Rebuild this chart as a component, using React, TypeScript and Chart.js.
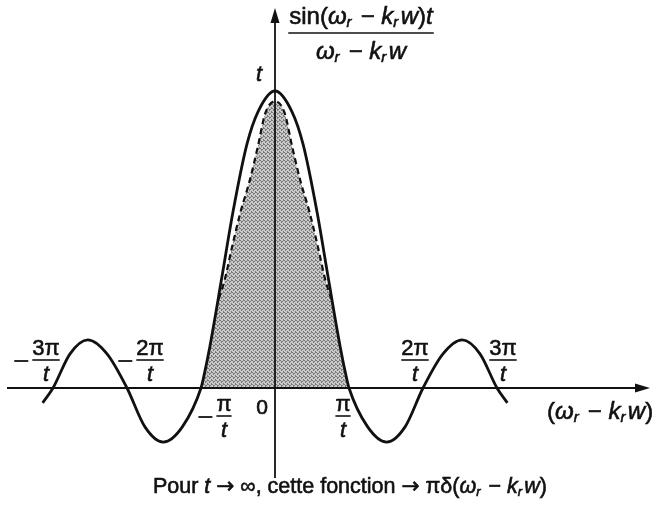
import { useEffect, useRef } from "react";
import { Chart, registerables } from "chart.js";

Chart.register(...registerables);

// Abscissa in units of π/t, ordinate in units of t.
const curveX = [-3.14, -3.0, -2.77, -2.53, -2.27, -2.0, -1.76, -1.51, -1.25, -1.0, -0.97, -0.88, -0.72, -0.57, -0.38, -0.23, 0, 0.23, 0.38, 0.57, 0.72, 0.88, 0.97, 1.0, 1.25, 1.51, 1.76, 2.0, 2.27, 2.53, 2.77, 3.0, 3.14];
const curveY = [-0.05, 0, 0.115, 0.162, 0.115, 0, -0.13, -0.182, -0.13, 0, 0.03, 0.14, 0.37, 0.59, 0.82, 0.93, 1.0, 0.93, 0.82, 0.59, 0.37, 0.14, 0.03, 0, -0.13, -0.182, -0.13, 0, 0.115, 0.162, 0.115, 0, -0.05];

// Dashed inner peak
const dashX = [-0.76, -0.68, -0.58, -0.47, -0.34, -0.23, -0.13, 0, 0.13, 0.23, 0.34, 0.47, 0.58, 0.68, 0.76];
const dashY = [0.3, 0.364, 0.475, 0.589, 0.7, 0.815, 0.926, 0.965, 0.926, 0.815, 0.7, 0.589, 0.475, 0.364, 0.3];

// Tick labels on the horizontal axis (value in π/t)
const tickValues = [-3, -2, -1, 1, 2, 3];
const tickNumerators = ["3π", "2π", "π", "π", "2π", "3π"];
const tickDenominator = "t";
const originLabel = "0";

// label placement: horizontal shift (px) and whether it sits above the axis
const TICK_LAYOUT = [
  { dx: -7, above: true },
  { dx: 23, above: true },
  { dx: 23, above: false },
  { dx: -6, above: false },
  { dx: -8, above: true },
  { dx: 6, above: true },
];

// i: italic, s: subscript, f: alternative family (for arrows)
type Seg = { t: string; i?: boolean; s?: boolean; f?: string };

const FAMILY = '"Liberation Sans", Arial, Helvetica, sans-serif';
const SYMBOLS = '"DejaVu Sans", sans-serif';

const yTitleNum: Seg[] = [
  { t: "sin(" },
  { t: "ω", i: true },
  { t: "r", i: true, s: true },
  { t: " − " },
  { t: "k", i: true },
  { t: "r", i: true, s: true },
  { t: "w", i: true },
  { t: ")" },
  { t: "t", i: true },
];
const yTitleDen: Seg[] = [
  { t: "ω", i: true },
  { t: "r", i: true, s: true },
  { t: " − " },
  { t: "k", i: true },
  { t: "r", i: true, s: true },
  { t: "w", i: true },
];
const xTitle: Seg[] = [
  { t: "(" },
  { t: "ω", i: true },
  { t: "r", i: true, s: true },
  { t: " − " },
  { t: "k", i: true },
  { t: "r", i: true, s: true },
  { t: "w", i: true },
  { t: ")" },
];
const peakLabel: Seg[] = [{ t: "t", i: true }];
const caption: Seg[] = [
  { t: "Pour " },
  { t: "t", i: true },
  { t: " " },
  { t: "→", f: SYMBOLS },
  { t: " ∞, cette fonction " },
  { t: "→", f: SYMBOLS },
  { t: " πδ(" },
  { t: "ω", i: true },
  { t: "r", i: true, s: true },
  { t: " − " },
  { t: "k", i: true },
  { t: "r", i: true, s: true },
  { t: "w", i: true },
  { t: ")" },
];

const INK = "#111";

function segFont(seg: Seg, size: number) {
  const sz = seg.s ? Math.round(size * 0.62) : size;
  return `${seg.i ? "italic " : ""}${sz}px ${seg.f ?? FAMILY}`;
}

function segAdvance(ctx: CanvasRenderingContext2D, seg: Seg, size: number) {
  ctx.font = segFont(seg, size);
  return ctx.measureText(seg.t).width + (seg.s ? size * 0.1 : 0);
}

function richWidth(ctx: CanvasRenderingContext2D, segs: Seg[], size: number) {
  let w = 0;
  for (const s of segs) w += segAdvance(ctx, s, size);
  return w;
}

// heavy text: fill plus a thin outline of the same ink
function inkText(ctx: CanvasRenderingContext2D, text: string, x: number, y: number) {
  ctx.fillText(text, x, y);
  ctx.lineWidth = 0.6;
  ctx.strokeText(text, x, y);
}

function drawRich(
  ctx: CanvasRenderingContext2D,
  segs: Seg[],
  x: number,
  y: number,
  size: number,
  align: "left" | "center" = "center"
) {
  const w = richWidth(ctx, segs, size);
  let cx = align === "center" ? x - w / 2 : x;
  ctx.textAlign = "left";
  ctx.textBaseline = "middle";
  for (const s of segs) {
    const adv = segAdvance(ctx, s, size);
    ctx.font = segFont(s, size);
    inkText(ctx, s.t, cx, y + (s.s ? size * 0.26 : 0));
    cx += adv;
  }
  return w;
}

const axesPlugin = {
  id: "sincAxes",
  afterDatasetsDraw(chart: any) {
    const { ctx } = chart;
    const xs = chart.scales.x;
    const ys = chart.scales.y;
    const x0 = xs.getPixelForValue(0);
    const y0 = ys.getPixelForValue(0);
    ctx.save();
    ctx.strokeStyle = INK;
    ctx.fillStyle = INK;
    ctx.lineWidth = 1.8;

    // horizontal axis with arrow
    const xEnd = 650;
    ctx.beginPath();
    ctx.moveTo(7, y0);
    ctx.lineTo(xEnd - 10, y0);
    ctx.stroke();
    ctx.beginPath();
    ctx.moveTo(xEnd, y0);
    ctx.lineTo(xEnd - 15, y0 - 4.5);
    ctx.lineTo(xEnd - 15, y0 + 4.5);
    ctx.closePath();
    ctx.fill();

    // vertical axis with arrow
    const yTop = 8;
    ctx.lineWidth = 1.8;
    ctx.beginPath();
    ctx.moveTo(x0, 478);
    ctx.lineTo(x0, yTop + 10);
    ctx.stroke();
    ctx.beginPath();
    ctx.moveTo(x0, yTop);
    ctx.lineTo(x0 - 4.5, yTop + 15);
    ctx.lineTo(x0 + 4.5, yTop + 15);
    ctx.closePath();
    ctx.fill();

    // tick fractions
    const fs = 22;
    tickValues.forEach((v, k) => {
      const lay = TICK_LAYOUT[k];
      const cx = xs.getPixelForValue(v) + lay.dx;
      const barY = lay.above ? y0 - 28 : y0 + 28;
      const num = tickNumerators[k];
      ctx.font = `${fs}px ${FAMILY}`;
      const nw = ctx.measureText(num).width;
      ctx.textAlign = "center";
      ctx.textBaseline = "middle";
      inkText(ctx, num, cx, barY - 11);
      ctx.font = `italic ${fs}px ${FAMILY}`;
      inkText(ctx, tickDenominator, cx, barY + 15);
      ctx.lineWidth = 1.6;
      ctx.beginPath();
      ctx.moveTo(cx - nw / 2, barY);
      ctx.lineTo(cx + nw / 2, barY);
      ctx.stroke();
      if (v < 0) {
        const mx = cx - nw / 2 - 11;
        ctx.lineWidth = 1.8;
        ctx.beginPath();
        ctx.moveTo(mx - 7, barY + 1);
        ctx.lineTo(mx + 7, barY + 1);
        ctx.stroke();
      }
    });

    ctx.font = `21px ${FAMILY}`;
    ctx.textAlign = "center";
    ctx.textBaseline = "middle";
    inkText(ctx, originLabel, x0 - 13, y0 + 20);

    // horizontal axis title
    drawRich(ctx, xTitle, 547, y0 + 24, 24, "left");

    // peak value label
    drawRich(ctx, peakLabel, x0 - 16, 75, 22);

    // vertical axis title as a fraction
    const tcx = 361;
    const nw = drawRich(ctx, yTitleNum, tcx, 17, 24);
    drawRich(ctx, yTitleDen, tcx, 52, 24);
    ctx.lineWidth = 1.6;
    ctx.beginPath();
    ctx.moveTo(tcx - nw / 2 - 1, 33);
    ctx.lineTo(tcx + nw / 2 + 1, 33);
    ctx.stroke();

    // caption
    drawRich(ctx, caption, 350, 487, 21.5);
    ctx.restore();
  },
};

export default function App() {
  const ref = useRef<HTMLCanvasElement | null>(null);

  useEffect(() => {
    const canvas = ref.current;
    if (!canvas) return;
    const ctx = canvas.getContext("2d")!;

    // stippled grey for the shaded central lobe
    const pc = document.createElement("canvas");
    pc.width = 4;
    pc.height = 4;
    const pg = pc.getContext("2d")!;
    pg.fillStyle = "#cacaca";
    pg.fillRect(0, 0, 4, 4);
    pg.fillStyle = "#7a7a7a";
    [[0, 0], [2, 1], [1, 2], [3, 3], [3, 0], [1, 1]].forEach(([a, b]) => pg.fillRect(a, b, 1, 1));
    const pattern = ctx.createPattern(pc, "repeat");

    const curve = curveX.map((x, k) => ({ x, y: curveY[k] }));
    const dash = dashX.map((x, k) => ({ x, y: dashY[k] }));
    const shade = [
      ...curve.filter((p) => p.x >= -1 && p.x < -0.76),
      ...dash,
      ...curve.filter((p) => p.x > 0.76 && p.x <= 1),
    ];

    const chart = new Chart(canvas, {
      type: "line",
      data: {
        datasets: [
          {
            data: curve,
            borderColor: INK,
            borderWidth: 2.8,
            pointRadius: 0,
            cubicInterpolationMode: "monotone",
            fill: false,
            order: 0,
          },
          {
            data: dash,
            borderColor: INK,
            borderWidth: 2.2,
            borderDash: [6, 4],
            pointRadius: 0,
            cubicInterpolationMode: "monotone",
            fill: false,
            order: 1,
          },
          {
            data: shade,
            borderWidth: 0,
            borderColor: "rgba(0,0,0,0)",
            backgroundColor: pattern as any,
            pointRadius: 0,
            cubicInterpolationMode: "monotone",
            fill: "origin",
            order: 2,
          },
        ],
      },
      options: {
        animation: false,
        responsive: false,
        events: [],
        layout: { padding: 0 },
        plugins: { legend: { display: false }, tooltip: { enabled: false } },
        scales: {
          x: { type: "linear", display: false, min: -275 / 74, max: (654 - 275) / 74 },
          y: { type: "linear", display: false, min: -(515 - 388) / 297, max: 388 / 297 },
        },
      },
      plugins: [axesPlugin],
    });
    return () => chart.destroy();
  }, []);

  return (
    <div style={{ position: "fixed", left: 0, top: 0, width: 654, height: 515, background: "#fff" }}>
      <canvas ref={ref} width={654} height={515} />
    </div>
  );
}
